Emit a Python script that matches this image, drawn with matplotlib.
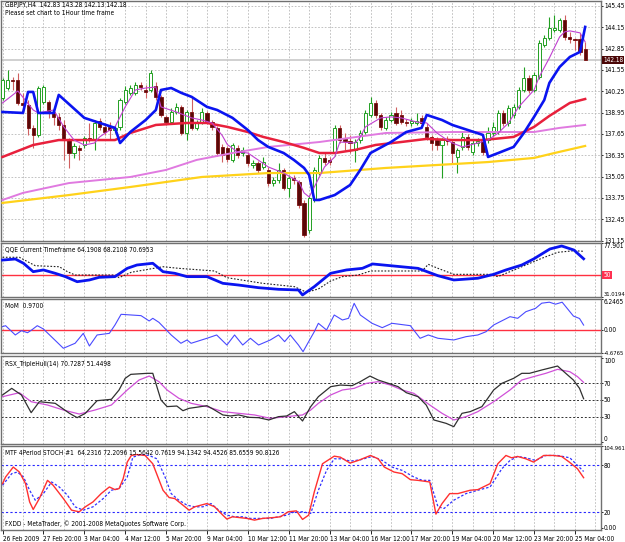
import matplotlib
matplotlib.use("Agg")
import matplotlib.pyplot as plt
import numpy as np

plt.rcParams['font.family'] = ['DejaVu Sans']
plt.rcParams['font.stretch'] = 'condensed'

# ---------------- data: GBPJPY H4 candles (bar 0 = 26 Feb 2009 12:00) ----------------
opens = [139.84, 140.45, 140.94, 140.94, 139.54, 139.42, 138.02, 137.59, 139.60, 139.60,
         138.99, 138.69, 138.20, 137.28, 136.49, 136.80, 136.98, 137.41, 137.28, 138.44,
         138.08, 138.08, 137.89, 138.08, 139.60, 140.15, 140.15, 140.64, 140.33, 140.33,
         140.58, 139.91, 138.69, 138.38, 138.99, 139.30, 137.71, 138.99, 138.02, 138.38,
         138.93, 138.38, 138.02, 136.86, 136.80, 136.07, 136.80, 136.49, 136.37, 135.76,
         135.88, 135.64, 135.46, 134.66, 134.85, 135.46, 134.36, 134.97, 134.73, 133.45,
         131.80, 133.63, 135.33, 136.19, 136.07, 136.49, 138.02, 137.35, 137.22, 136.68,
         137.28, 137.77, 138.81, 139.54, 138.81, 138.02, 138.50, 138.93, 138.81, 138.38,
         138.32, 138.32, 138.63, 138.08, 137.47, 137.28, 136.98, 137.28, 137.16, 136.25,
         136.86, 137.47, 136.55, 137.10, 137.22, 137.28, 137.71, 137.77, 138.93, 138.32,
         138.81, 139.30, 140.33, 141.06, 140.33, 141.12, 143.07, 143.50, 143.99, 143.99,
         144.60, 143.56, 143.44, 143.44, 142.83]
highs = [141.06, 141.55, 141.12, 141.37, 140.15, 139.72, 138.20, 140.58, 140.64, 139.72,
         139.23, 138.93, 138.50, 137.41, 137.10, 136.98, 137.53, 138.32, 138.50, 138.63,
         138.32, 138.38, 138.20, 139.84, 140.58, 140.64, 140.82, 140.82, 140.64, 141.55,
         140.82, 140.03, 138.81, 139.23, 139.54, 139.42, 139.11, 139.91, 138.50, 139.23,
         139.05, 138.50, 138.14, 137.04, 136.92, 137.10, 136.98, 136.86, 136.55, 136.07,
         136.00, 136.25, 135.64, 135.03, 135.88, 135.58, 135.15, 135.15, 134.85, 133.63,
         133.93, 135.64, 136.37, 136.49, 136.25, 138.20, 138.20, 137.71, 137.59, 137.35,
         137.89, 139.11, 139.91, 139.72, 138.93, 138.69, 138.99, 139.30, 139.11, 138.56,
         138.63, 138.93, 138.81, 138.32, 137.59, 137.47, 137.41, 137.53, 137.28, 136.80,
         137.77, 137.65, 137.28, 137.41, 137.35, 138.08, 138.38, 139.11, 139.11, 139.42,
         139.48, 140.51, 141.73, 141.25, 141.43, 143.38, 143.68, 144.78, 144.90, 144.72,
         144.90, 143.87, 143.50, 143.81, 143.28]
lows = [139.72, 140.33, 140.33, 139.42, 138.93, 137.59, 136.80, 137.47, 139.48, 138.63,
        138.20, 137.89, 136.07, 135.58, 136.19, 136.07, 136.80, 137.16, 136.68, 137.89,
        137.59, 137.28, 137.71, 137.89, 139.48, 140.03, 140.03, 140.33, 139.84, 140.21,
        139.72, 138.69, 138.20, 138.26, 138.87, 137.59, 137.28, 137.89, 137.89, 138.26,
        138.26, 137.89, 136.31, 135.94, 135.94, 135.94, 136.19, 136.31, 135.70, 135.58,
        135.27, 135.52, 134.48, 134.48, 134.66, 134.24, 133.81, 134.60, 133.14, 131.37,
        131.62, 133.51, 135.15, 135.76, 135.76, 136.31, 137.10, 136.68, 136.49, 135.94,
        137.10, 137.65, 138.69, 138.63, 137.89, 137.89, 138.38, 138.20, 138.26, 138.14,
        138.14, 138.20, 138.14, 137.28, 136.68, 136.68, 134.97, 136.98, 135.88, 135.27,
        136.68, 136.68, 136.37, 136.92, 136.37, 137.10, 137.53, 137.65, 138.14, 138.14,
        138.63, 139.17, 140.21, 140.15, 140.21, 141.00, 142.95, 143.38, 143.87, 143.87,
        143.38, 143.20, 142.77, 142.46, 142.13]
closes = [140.94, 140.94, 140.88, 139.54, 139.42, 138.02, 137.59, 140.45, 140.51, 138.93,
          138.69, 138.20, 137.28, 136.49, 136.92, 136.68, 137.41, 137.35, 138.32, 138.08,
          137.77, 137.89, 138.02, 139.72, 140.33, 140.45, 140.64, 140.51, 140.21, 141.37,
          139.91, 138.81, 138.38, 138.99, 139.30, 137.71, 138.99, 138.02, 138.32, 138.99,
          138.38, 138.08, 136.49, 136.37, 136.13, 136.98, 136.37, 136.68, 135.88, 135.88,
          135.46, 135.94, 134.66, 134.85, 135.46, 134.36, 134.97, 134.85, 133.32, 131.50,
          133.75, 135.46, 136.19, 135.94, 135.94, 138.02, 137.28, 137.22, 137.10, 137.16,
          137.71, 138.93, 139.54, 138.81, 138.08, 138.50, 138.81, 138.32, 138.38, 138.32,
          138.44, 138.44, 138.32, 137.47, 137.10, 136.98, 137.28, 137.22, 136.49, 136.68,
          137.47, 136.86, 137.10, 137.22, 136.55, 137.71, 138.08, 138.93, 138.32, 139.23,
          139.30, 140.33, 141.06, 140.33, 141.25, 143.20, 143.50, 144.11, 144.11, 144.60,
          143.56, 143.44, 143.38, 142.65, 142.18]

# moving averages on the price chart (bar index, price)
blue_x = [0, 4, 5, 6, 7, 10, 11, 16, 22, 23, 25, 28, 30, 31, 33, 35, 37, 40, 42, 45, 48, 50, 52,
          55, 57, 59, 60, 61, 62, 65, 68, 70, 72, 76, 79, 82, 83, 86, 88, 94, 95, 97, 100, 102,
          104, 106, 107, 109, 111, 113, 114]
blue_y = [138.99, 138.93, 140.21, 140.21, 138.93, 138.93, 140.03, 138.63, 138.02, 137.10, 137.77,
          138.50, 139.11, 140.33, 140.45, 140.15, 139.91, 139.30, 139.11, 138.63, 137.89, 137.28,
          136.86, 136.49, 136.07, 135.58, 135.15, 133.63, 133.63, 133.93, 134.54, 135.46, 136.49,
          137.16, 137.77, 138.02, 138.81, 138.50, 138.20, 137.59, 136.25, 136.49, 136.86, 137.71,
          138.69, 139.72, 140.76, 141.73, 142.34, 142.65, 144.17]
fast_x = [0, 3, 6, 7, 10, 12, 14, 16, 18, 19, 21, 22, 24, 26, 28, 30, 31, 34, 37, 39, 41, 43, 44,
          46, 48, 50, 52, 55, 58, 59, 60, 62, 63, 65, 66, 69, 70, 71, 74, 76, 78, 81, 83, 85, 87,
          88, 90, 93, 95, 97, 99, 101, 104, 105, 107, 109, 110, 111, 113, 114]
fast_y = [139.54, 140.27, 139.11, 138.93, 139.11, 138.08, 137.28, 136.98, 137.10, 137.47, 137.89,
          138.08, 139.30, 140.33, 140.45, 140.51, 139.30, 138.99, 138.63, 138.50, 138.32, 137.55,
          137.00, 136.55, 136.49, 136.07, 135.64, 135.27, 134.73, 134.06, 133.81, 135.03, 135.64,
          136.25, 137.16, 137.10, 137.47, 138.08, 138.63, 138.69, 138.63, 138.38, 138.32, 137.71,
          137.28, 137.10, 136.86, 137.10, 137.28, 137.71, 138.32, 139.30, 140.33, 141.12, 142.28,
          143.56, 143.87, 143.93, 143.81, 143.26]
red_x = [0, 6, 11, 22, 25, 30, 36, 40, 44, 48, 51, 55, 59, 62, 65, 69, 73, 78, 83, 88, 94, 100,
         104, 107, 111, 114]
red_y = [136.25, 136.98, 137.28, 137.28, 137.71, 138.20, 138.32, 138.32, 138.08, 137.77, 137.47,
         137.16, 136.80, 136.49, 136.49, 136.68, 136.98, 137.16, 137.35, 137.28, 137.28, 137.47,
         138.08, 138.75, 139.54, 139.78]
violet_x = [0, 4, 13, 25, 32, 38, 45, 52, 62, 75, 88, 104, 109, 114]
violet_y = [133.63, 134.06, 134.66, 135.03, 135.46, 136.07, 136.49, 136.86, 137.16, 137.71,
            137.77, 137.77, 138.02, 138.20]
yellow_x = [0, 13, 25, 39, 52, 62, 75, 95, 104, 108, 114]
yellow_y = [133.45, 133.93, 134.42, 135.03, 135.27, 135.27, 135.58, 135.94, 136.19, 136.49, 136.92]
bid_price = 142.18
price_ticks = [145.45, 144.15, 142.85, 141.55, 140.25, 138.95, 137.65, 136.35, 135.05, 133.75,
               132.45, 131.15]

# QQE
qqe_x = [0, 2.5, 4.1, 6.0, 8.0, 10.3, 12.3, 14.6, 17.0, 18.9, 22.0, 24.4, 26.3, 29.4, 31.4, 33.7,
         36.1, 40.0, 43.1, 46.2, 50.1, 54.0, 57.9, 58.7, 61.0, 64.2, 67.3, 70.4, 72.4, 75.9, 81.3,
         85.2, 88.3, 93.0, 96.1, 98.5, 101.6, 103.9, 107.1, 109.4, 111.8, 113.7]
qqe_y = [63.1, 64.0, 60.3, 53.0, 54.5, 51.6, 48.7, 44.3, 45.8, 48.1, 48.7, 55.9, 58.8, 60.3, 53.0,
         51.6, 48.7, 48.7, 42.9, 41.4, 39.1, 37.7, 37.1, 32.8, 40.0, 51.6, 54.5, 55.9, 59.7, 58.2,
         55.9, 49.5, 45.8, 47.3, 50.7, 54.5, 58.8, 64.0, 72.7, 75.3, 71.8, 64.19]
qqe_slow_x = [0, 3.3, 4.9, 6.4, 11.1, 12.7, 14.2, 22.0, 22.8, 25.2, 31.4, 34.5, 41.5, 43.9, 50.9,
              57.1, 59.5, 61.8, 64.2, 66.5, 69.6, 72.0, 82.1, 83.3, 85.2, 88.3, 95.4, 96.9, 99.3,
              102.4, 105.5, 108.6, 111.8, 113.7]
qqe_slow_y = [65.5, 65.5, 61.7, 58.2, 57.3, 53.0, 50.1, 50.1, 47.8, 52.5, 57.3, 55.9, 53.6, 47.8,
              42.9, 40.0, 35.1, 38.0, 44.9, 48.7, 50.1, 53.6, 53.6, 59.4, 55.9, 50.7, 50.7, 48.7,
              53.0, 58.8, 64.6, 69.8, 71.2, 70.7]

# Momentum
mom_x = [0, 0.6, 2.5, 3.7, 4.9, 5.7, 6.8, 8.0, 11.9, 14.2, 15.8, 17.0, 18.5, 20.9, 22.0, 23.2,
         25.2, 27.1, 28.7, 29.4, 30.6, 33.0, 34.9, 36.1, 36.9, 40.0, 41.9, 43.9, 45.4, 47.0, 48.5,
         50.1, 52.4, 54.0, 55.2, 56.3, 57.9, 58.8, 59.9, 61.0, 61.8, 63.4, 64.9, 66.5, 67.7, 68.8,
         70.0, 72.3, 74.3, 76.2, 79.8, 81.7, 83.3, 85.2, 88.3, 90.7, 93.0, 94.6, 96.1, 99.3, 100.8,
         102.4, 104.3, 105.5, 107.0, 108.2, 109.5, 111.7, 112.9, 113.7]
mom_y = [0.65, 0.85, -1.03, -0.16, -0.57, -0.02, 0.85, 0.18, -3.72, -2.71, -0.70, -3.26, -1.03,
         -0.70, 0.99, 3.15, 3.01, 2.88, 1.80, 2.34, 1.53, -1.03, -2.71, -2.04, -2.71, -1.70, -1.03,
         -3.06, -1.03, -3.06, -1.70, -3.06, -2.04, -1.03, -2.38, -1.03, -3.06, -4.41, -2.38, -0.37,
         1.33, -0.02, 3.01, 2.00, 2.34, 5.37, 3.01, 1.33, 0.45, 1.33, 0.85, -1.70, -1.03, -1.70,
         -2.04, -1.37, -1.03, -0.37, 0.99, 2.67, 2.34, 3.68, 4.36, 5.40, 5.60, 5.20, 5.60, 2.80,
         2.30, 0.97]

# RSX
rsx_x = [0, 1.8, 3.7, 5.6, 7.2, 10.3, 13.1, 14.6, 16.2, 18.5, 21.3, 22.8, 24.0, 25.1, 28.3, 29.4,
         31.0, 32.2, 34.1, 35.3, 36.5, 38.8, 40.0, 41.5, 43.1, 44.6, 46.2, 48.2, 50.1, 52.1, 54.0,
         55.6, 57.1, 58.7, 60.3, 61.8, 64.2, 66.1, 68.4, 70.0, 71.9, 73.5, 75.5, 77.4, 79.0, 81.3,
         82.9, 84.4, 86.8, 88.3, 89.9, 91.5, 93.8, 96.1, 97.7, 100.0, 101.6, 103.1, 105.5, 108.6,
         110.2, 111.7, 112.9, 113.7]
rsx_y = [55.9, 63.7, 55.9, 35.1, 48.0, 46.1, 34.3, 29.2, 34.3, 49.2, 50.8, 61.8, 75.5, 80.2, 81.4,
         81.4, 50.0, 42.2, 42.9, 37.4, 40.2, 42.2, 43.3, 38.2, 32.4, 31.2, 32.4, 29.6, 29.2, 26.5,
         30.4, 31.2, 36.3, 25.3, 42.2, 53.9, 65.7, 67.6, 66.9, 71.6, 78.2, 73.5, 69.6, 65.7, 58.6,
         53.9, 44.1, 26.5, 22.5, 18.6, 34.3, 36.3, 42.2, 61.8, 69.6, 75.5, 81.4, 81.4, 85.3, 90.0,
         81.4, 73.5, 63.7, 51.45]
rsx_sig_x = [0, 3.3, 5.6, 8.8, 11.9, 15.0, 18.1, 21.3, 24.4, 26.7, 28.7, 30.6, 32.2, 34.5, 36.9,
             40.0, 43.1, 46.2, 49.3, 52.4, 55.6, 58.7, 60.3, 61.8, 64.2, 66.5, 68.8, 71.2, 73.5,
             75.9, 78.2, 80.5, 83.6, 86.0, 88.3, 90.7, 93.0, 96.1, 99.3, 101.6, 103.9, 106.3,
             108.6, 111.0, 112.5, 113.7]
rsx_sig_y = [53.9, 58.6, 48.0, 44.1, 38.2, 33.5, 38.2, 44.1, 61.8, 73.5, 78.2, 71.6, 61.8, 52.0,
             46.1, 42.2, 36.3, 34.3, 32.4, 28.4, 30.4, 32.4, 38.2, 46.1, 55.9, 61.8, 63.7, 69.6,
             71.6, 67.6, 61.8, 57.8, 44.1, 34.3, 26.5, 30.4, 36.3, 48.0, 61.8, 73.5, 77.5, 81.4,
             86.1, 83.3, 77.5, 70.73]
rsx_levels = [70, 50, 30]

# MTF stochastic
sto_x = [0, 0.6, 2.1, 3.3, 4.5, 5.3, 6.0, 7.2, 8.8, 9.9, 11.9, 13.5, 15.0, 16.2, 17.7, 19.3, 20.9,
         22.0, 22.8, 23.6, 24.4, 25.2, 26.3, 27.9, 29.4, 31.4, 32.6, 33.7, 35.3, 36.5, 37.6, 38.8,
         40.0, 41.5, 43.1, 43.9, 45.0, 46.2, 47.8, 49.3, 50.9, 53.2, 54.4, 55.9, 57.5, 58.7, 59.9,
         61.0, 62.6, 64.9, 66.1, 68.0, 69.6, 72.0, 73.5, 74.7, 76.6, 78.2, 79.8, 81.3, 83.6, 84.8,
         86.0, 87.5, 89.1, 91.5, 93.0, 95.4, 96.9, 98.5, 99.6, 100.8, 102.4, 103.9, 105.9, 107.8,
         109.4, 110.9, 112.5, 113.7]
sto_y = [56.6, 65.1, 77.9, 71.5, 56.6, 33.1, 23.4, 37.4, 60.8, 54.5, 37.4, 22.5, 20.4, 26.8, 33.1,
         43.8, 52.3, 48.9, 50.2, 62.9, 84.3, 92.8, 94.0, 92.8, 82.1, 48.1, 38.7, 37.4, 28.9, 22.5,
         26.8, 28.9, 31.0, 26.8, 16.1, 11.0, 14.0, 13.1, 11.9, 9.7, 11.9, 13.1, 14.0, 20.4, 21.6,
         10.6, 16.1, 45.9, 82.1, 91.9, 90.6, 83.0, 86.4, 92.8, 88.5, 77.9, 71.5, 69.4, 61.7, 60.8,
         58.7, 17.4, 31.0, 43.8, 43.8, 48.1, 48.9, 56.6, 82.1, 92.8, 89.8, 91.5, 88.5, 84.3, 92.8,
         92.8, 91.5, 84.3, 75.7, 64.23]
sto_sig_x = [0, 1.8, 2.9, 4.1, 5.3, 6.4, 8.0, 9.6, 11.1, 12.7, 14.2, 15.8, 17.7, 19.7, 21.3, 22.8,
             24.4, 25.5, 27.1, 28.7, 30.2, 31.8, 33.0, 34.5, 36.1, 37.6, 39.2, 40.8, 42.3, 43.9,
             45.4, 47.0, 48.5, 50.1, 52.4, 54.0, 55.6, 57.1, 58.7, 60.3, 61.8, 63.4, 64.9, 66.5,
             68.0, 70.0, 72.3, 74.3, 76.2, 78.2, 80.5, 82.1, 83.6, 85.2, 86.4, 88.3, 90.7, 93.0,
             95.4, 97.7, 99.3, 100.8, 102.4, 104.3, 106.3, 108.6, 111.0, 112.5, 113.7]
sto_sig_y = [54.5, 69.4, 71.5, 65.1, 48.1, 35.3, 43.8, 58.7, 52.3, 41.7, 26.8, 22.5, 26.8, 37.4,
             48.1, 50.2, 65.1, 90.6, 94.0, 92.8, 88.5, 65.1, 43.8, 35.3, 28.9, 26.8, 26.8, 31.0,
             22.5, 16.1, 14.0, 14.0, 11.9, 11.9, 11.9, 14.0, 16.1, 20.4, 20.4, 18.3, 48.1, 73.6,
             88.5, 88.5, 85.5, 87.2, 91.5, 86.4, 77.9, 73.6, 65.1, 60.8, 60.8, 26.8, 24.7, 35.3,
             43.8, 48.1, 52.3, 75.7, 86.4, 91.5, 89.8, 86.4, 92.8, 92.8, 89.8, 80.0, 72.21]
sto_levels = [80, 20]

date_ticks = list(range(0, 113, 8))
date_labels = ["26 Feb 2009", "27 Feb 20:00", "3 Mar 04:00", "4 Mar 12:00", "5 Mar 20:00",
               "9 Mar 04:00", "10 Mar 12:00", "11 Mar 20:00", "13 Mar 04:00", "16 Mar 12:00",
               "17 Mar 20:00", "19 Mar 04:00", "20 Mar 12:00", "23 Mar 20:00", "25 Mar 04:00"]

# ---------------- layout ----------------
W, H = 625, 542
fig = plt.figure(figsize=(W / 100, H / 100), dpi=100)
fig.patch.set_facecolor('white')
FS = 4.7
FS_LONG = 4.2   # seven-character axis labels
GRID = '#b8b8b8'


def box(top, bottom, left=1, right=601):
    return [left / W, 1 - bottom / H, (right - left) / W, (bottom - top) / H]


ax = fig.add_axes(box(1, 241))
ax_q = fig.add_axes(box(243, 297))
ax_m = fig.add_axes(box(299, 353))
ax_r = fig.add_axes(box(356, 444))
ax_s = fig.add_axes(box(446, 530))
panels = [ax, ax_q, ax_m, ax_r, ax_s]

for a in panels:
    a.set_xlim(-0.3, 117.1)
    a.set_xticks(date_ticks)
    a.set_xticks(np.arange(4, 117, 8), minor=True)
    a.grid(True, which='both', axis='x', color=GRID, linestyle=(0, (2, 2)), linewidth=0.6)
    a.set_axisbelow(True)
    a.tick_params(axis='x', which='both', length=0, labelbottom=False)
    a.yaxis.tick_right()
    a.tick_params(axis='y', labelsize=FS, length=1.5, pad=0.6, width=0.6)
    for s in a.spines.values():
        s.set_color('#707070')
        s.set_linewidth(1.0)

# ---------------- main price chart ----------------
ax.set_ylim(131.13, 145.75)
ax.set_yticks(price_ticks, labels=[f"{p:.2f}" for p in price_ticks])
ax.grid(True, axis='y', color=GRID, linestyle=(0, (2, 2)), linewidth=0.6)
ax.axhline(bid_price, color='#c8c8c8', lw=1.2, zorder=1)

x = np.arange(len(opens))
o, h, l, c = map(np.array, (opens, highs, lows, closes))
up = c > o
dn = ~up
ax.vlines(x[up], l[up], h[up], color='#22a022', lw=0.8, zorder=2)
ax.vlines(x[dn], l[dn], h[dn], color='#d06060', lw=0.8, zorder=2)
ax.bar(x[up], (c - o)[up], bottom=o[up], width=0.62, facecolor='white',
       edgecolor='#22a022', lw=0.7, zorder=3)
ax.bar(x[dn], np.minimum((c - o)[dn], -0.03), bottom=o[dn], width=0.62, facecolor='#5a0808',
       edgecolor='#7a1010', lw=0.6, zorder=3)

ax.plot(yellow_x, yellow_y, color='#ffd21a', lw=1.6, zorder=4)
ax.plot(violet_x, violet_y, color='#e07ae0', lw=1.4, zorder=4)
ax.plot(red_x, red_y, color='#e8203c', lw=1.8, zorder=4)
ax.plot(fast_x, fast_y, color='#c040d0', lw=0.8, zorder=5)
ax.plot(blue_x, blue_y, color='#0a14f0', lw=1.9, zorder=6)

ax.annotate(f"{bid_price:.2f}", xy=(1.0, bid_price), xycoords=('axes fraction', 'data'),
            xytext=(1.5, 0), textcoords='offset points', va='center', ha='left', fontsize=FS,
            color='white', bbox=dict(boxstyle='square,pad=0.15', fc='#4a0606', ec='none'))

fig.text(5 / W, 1 - 2 / H, "GBPJPY,H4  142.83 143.28 142.13 142.18", fontsize=FS, va='top')
fig.text(5 / W, 1 - 10 / H, "Please set chart to 1Hour time frame", fontsize=FS, va='top')

# ---------------- QQE ----------------
ax_q.set_ylim(31.0194, 77.901)
ax_q.axhline(50, color='#ff3040', lw=1.0, zorder=1)
ax_q.plot(qqe_slow_x, qqe_slow_y, color='#202020', lw=0.8, ls=(0, (1.5, 1.5)), zorder=2)
ax_q.plot(qqe_x, qqe_y, color='#0a14f0', lw=2.0, zorder=3)
ax_q.set_yticks([77.901, 31.0194], labels=["77.901", "31.0194"])
tl = ax_q.get_yticklabels()
tl[0].set_verticalalignment('top')
tl[1].set_verticalalignment('bottom')
tl[1].set_fontsize(FS_LONG)
ax_q.annotate("50", xy=(1.0, 50), xycoords=('axes fraction', 'data'), xytext=(1.5, 0),
              textcoords='offset points', va='center', ha='left', fontsize=FS, color='white',
              bbox=dict(boxstyle='square,pad=0.15', fc='#ff3050', ec='none'))
ax_q.text(0.006, 0.93, "QQE Current Timeframe 64.1908 68.2108 70.6953", transform=ax_q.transAxes,
          fontsize=FS, va='top')

# ---------------- Momentum ----------------
ax_m.set_ylim(-4.6765, 6.2465)
ax_m.axhline(0, color='#ff3040', lw=1.0, zorder=1)
ax_m.plot(mom_x, mom_y, color='#4a4aff', lw=0.8, zorder=2)
ax_m.set_yticks([6.2465, 0, -4.6765], labels=["6.2465", "0.00", "-4.6765"])
ml = ax_m.get_yticklabels()
ml[0].set_verticalalignment('top')
ml[2].set_fontsize(FS_LONG)
ax_m.text(0.006, 0.93, "MoM  0.9700", transform=ax_m.transAxes, fontsize=FS, va='top')

# ---------------- RSX ----------------
ax_r.set_ylim(-1.8, 101.8)
for lv in rsx_levels:
    ax_r.axhline(lv, color='#303030', lw=0.7, ls=(0, (2, 2)), zorder=1)
ax_r.plot(rsx_sig_x, rsx_sig_y, color='#d050d8', lw=0.9, zorder=2)
ax_r.plot(rsx_x, rsx_y, color='#303030', lw=0.9, zorder=3)
ax_r.set_yticks([100, 70, 50, 30, 0], labels=["100", "70", "50", "30", "0"])
rl = ax_r.get_yticklabels()
rl[0].set_verticalalignment('top')
rl[-1].set_verticalalignment('bottom')
ax_r.text(0.006, 0.95, "RSX_TripleHull(14) 70.7287 51.4498", transform=ax_r.transAxes,
          fontsize=FS, va='top')

# ---------------- MTF Stochastic ----------------
ax_s.set_ylim(-3.0, 104.961)
for lv in sto_levels:
    ax_s.axhline(lv, color='#2828ff', lw=0.8, ls=(0, (2, 2)), zorder=1)
ax_s.plot(sto_sig_x, sto_sig_y, color='#3030ff', lw=0.9, ls=(0, (2, 1.5)), zorder=2)
ax_s.plot(sto_x, sto_y, color='#ff3030', lw=1.0, zorder=3)
ax_s.set_yticks([104.961, 80, 20, 0], labels=["104.961", "80", "20", "0.00"])
sl = ax_s.get_yticklabels()
sl[0].set_verticalalignment('top')
sl[0].set_fontsize(FS_LONG)
ax_s.text(0.006, 0.95,
          "MTF 4Period STOCH #1  64.2316 72.2096 15.5642 0.7619 94.1342 94.4526 85.6559 90.8126",
          transform=ax_s.transAxes, fontsize=FS, va='top')
ax_s.text(0.006, 0.03, "FXDD - MetaTrader, \u00a9 2001-2008 MetaQuotes Software Corp.",
          transform=ax_s.transAxes, fontsize=FS, va='bottom')

ax_s.tick_params(axis='x', which='major', length=3, width=0.6, labelbottom=True,
                 labelsize=FS, pad=1)
ax_s.set_xticklabels(date_labels)
for t in ax_s.get_xticklabels():
    t.set_horizontalalignment('left')

fig.savefig("out.png", dpi=100, facecolor='white')
